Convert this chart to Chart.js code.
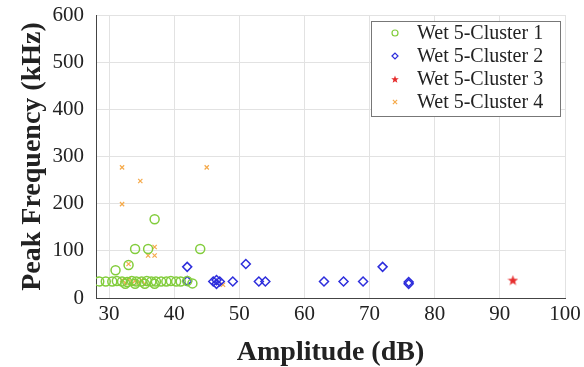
<!DOCTYPE html>
<html>
<head>
<meta charset="utf-8">
<script src="https://cdn.jsdelivr.net/npm/chart.js@4/dist/chart.umd.min.js"></script>
<style>
  html, body { margin: 0; padding: 0; background: #fff; }
  #wrap { width: 584px; height: 367px; }
</style>
</head>
<body>
<div id="wrap"><canvas id="peak-amp"></canvas></div>
<script>
/**
 * Data: [amplitude dB, peak frequency kHz]
 */
const cluster1 = [
  [28.5, 35], [29.5, 35], [30.5, 35], [31.2, 36], [32, 35], [32.8, 34],
  [33.5, 36], [34.2, 35], [35, 35], [35.8, 36], [36.5, 35], [37.2, 35],
  [38, 35], [38.8, 35], [39.5, 36], [40.3, 35], [41, 35], [42, 36],
  [42.8, 31], [32.5, 30], [34, 30], [35.5, 30], [37, 30],
  [31, 59], [33, 70], [34, 104], [36, 104], [44, 104], [37, 167],
];
const cluster2 = [
  [42, 66], [42, 36], [46, 35], [46.5, 30], [47, 35], [46.5, 38], [49, 35],
  [51, 72], [53, 35], [54, 35], [63, 35], [66, 35], [69, 35], [72, 66],
  [76, 34], [76, 30],
];
const cluster3 = [[92, 38]];
const cluster4 = [
  [32, 277], [34.8, 248], [32, 199], [45, 277], [37, 108], [36, 90], [37, 90],
  [33, 72], [32, 38], [32.5, 32], [33, 40], [33.5, 30], [34, 36], [34.5, 33],
  [35, 38], [35.5, 30], [47.5, 28],
];

const seriesNames = ["Wet 5-Cluster 1", "Wet 5-Cluster 2", "Wet 5-Cluster 3", "Wet 5-Cluster 4"];
const xTicks = [30, 40, 50, 60, 70, 80, 90, 100];
const yTicks = [0, 100, 200, 300, 400, 500, 600];

const toPoints = (arr) => arr.map(([x, y]) => ({ x, y }));
const serif = "'Liberation Serif', 'Times New Roman', serif";

const colors = [
  "rgb(130, 205, 60)",
  "rgb(45, 45, 220)",
  "rgb(230, 45, 45)",
  "rgb(245, 170, 75)",
];

// five-point star marker (Chart.js "star" is an asterisk)
const makeStar = (size, color) => {
  const c = document.createElement("canvas");
  c.width = size;
  c.height = size;
  const g = c.getContext("2d");
  const r = size / 2, ri = r * 0.42;
  g.beginPath();
  for (let k = 0; k < 10; k++) {
    const a = -Math.PI / 2 + (k * Math.PI) / 5;
    const rr = k % 2 === 0 ? r : ri;
    g.lineTo(r + rr * Math.cos(a), r + 0.5 + rr * Math.sin(a));
  }
  g.closePath();
  g.fillStyle = color;
  g.fill();
  return c;
};
const starBig = makeStar(11, colors[2]);
const starSmall = makeStar(8, colors[2]);

const styles = ["circle", "rectRot", starBig, "crossRot"];
const radii = [4.5, 4.5, 5, 3];

// legend drawn inside the plot, top right, like the original
const boxLegend = {
  id: "boxLegend",
  afterDatasetsDraw(chart) {
    const { ctx, chartArea } = chart;
    const w = 189, h = 95;
    const x0 = chartArea.right - w - 5, y0 = chartArea.top + 6;
    ctx.save();
    ctx.fillStyle = "#fff";
    ctx.fillRect(x0, y0, w, h);
    ctx.strokeStyle = "#777";
    ctx.lineWidth = 1;
    ctx.strokeRect(x0 + 0.5, y0 + 0.5, w, h);
    chart.data.datasets.forEach((ds, i) => {
      const cy = y0 + 12 + i * 23;
      ctx.strokeStyle = ds.borderColor;
      ctx.fillStyle = ds.backgroundColor;
      ctx.lineWidth = 1.2;
      Chart.helpers.drawPoint(ctx, {
        pointStyle: i === 2 ? starSmall : ds.pointStyle,
        radius: 3,
        borderWidth: 1.2,
      }, x0 + 24, cy);
      ctx.font = "20px " + serif;
      ctx.textBaseline = "middle";
      ctx.textAlign = "left";
      ctx.fillStyle = "#222";
      ctx.fillText(ds.label, x0 + 46, cy + 1);
    });
    ctx.restore();
  },
};

const ctxEl = document.getElementById("peak-amp");

new Chart(ctxEl, {
  type: "scatter",
  data: {
    datasets: [cluster1, cluster2, cluster3, cluster4].map((d, i) => ({
      label: seriesNames[i],
      data: toPoints(d),
      pointStyle: styles[i],
      pointRadius: radii[i],
      borderColor: colors[i],
      backgroundColor: "rgba(0,0,0,0)",
      borderWidth: i === 3 ? 1.2 : 1.5,
    })),
  },
  options: {
    responsive: true,
    maintainAspectRatio: false,
    animation: false,
    layout: { padding: { top: 15, right: 19, left: 0, bottom: 0 } },
    plugins: {
      legend: { display: false },
      tooltip: { enabled: false },
    },
    scales: {
      x: {
        type: "linear",
        min: 28,
        max: 100,
        afterBuildTicks: (s) => { s.ticks = xTicks.map((v) => ({ value: v })); },
        afterFit: (s) => {
          s.height = 69;
          s.paddingLeft = 0;
          s.paddingRight = 0;
        },
        grid: { color: "#e2e2e2", drawTicks: false },
        border: { color: "#444" },
        ticks: { font: { family: serif, size: 21 }, color: "#222", padding: 4 },
        title: {
          display: true,
          text: "Amplitude (dB)",
          font: { family: serif, size: 28, weight: "bold" },
          color: "#222",
          padding: { top: 0, bottom: -3 },
        },
      },
      y: {
        min: 0,
        max: 600,
        afterBuildTicks: (s) => { s.ticks = yTicks.map((v) => ({ value: v })); },
        afterFit: (s) => {
          s.width = 96;
          s.paddingTop = 0;
          s.paddingBottom = 0;
        },
        grid: { color: "#e2e2e2", drawTicks: false },
        border: { color: "#444" },
        ticks: { font: { family: serif, size: 21 }, color: "#222", padding: 12 },
        title: {
          display: true,
          text: "Peak Frequency (kHz)",
          font: { family: serif, size: 28, weight: "bold" },
          color: "#222",
          padding: { top: 16, bottom: 0 },
        },
      },
    },
  },
  plugins: [boxLegend],
});
</script>
</body>
</html>
